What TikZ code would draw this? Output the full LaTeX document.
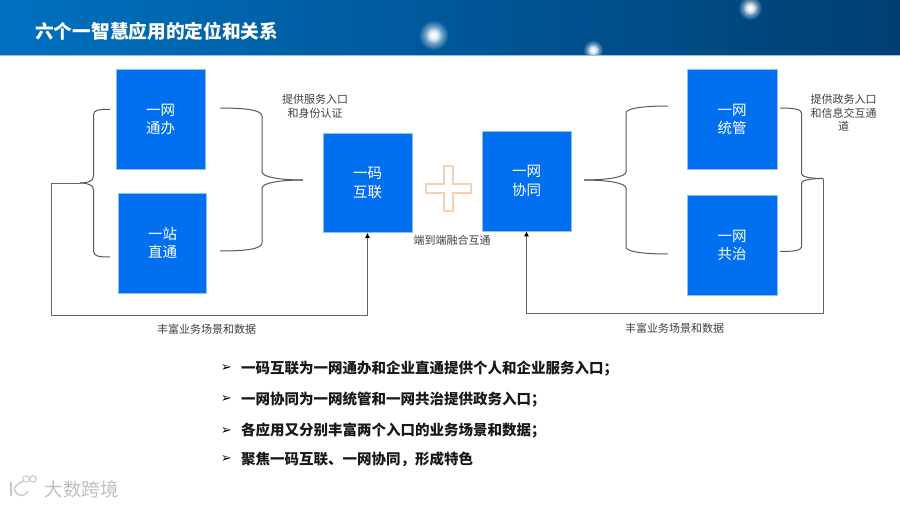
\documentclass[tikz,border=0pt]{standalone}
\usepackage{fontspec}
\setmainfont{Noto Sans CJK SC}
\newfontfamily\symfont{DejaVu Sans}
\usepackage{xcolor}
\usetikzlibrary{arrows.meta, positioning, calc, fadings}
\definecolor{appblue}{HTML}{0070F0}
\definecolor{appedge}{HTML}{8FC0F5}
\definecolor{headleft}{HTML}{0070C0}
\definecolor{headright}{HTML}{003F72}
\definecolor{plusedge}{HTML}{F6CFB4}
\tikzfading[name=glowfade, inner color=transparent!0, outer color=transparent!100]
\tikzset{
  appbox/.style={
    draw=appedge, line width=0.6pt, fill=appblue, align=center, text=white,
    inner sep=0pt, font=\fontsize{14.5}{18.5}\selectfont
  },
  bracecurve/.style={draw=black!65, line width=1pt},
  backarrow/.style={draw=black!60, line width=1pt, -{Latex[length=5pt,width=5pt,color=black]}},
  notelabel/.style={
    font=\fontsize{11}{13.7}\selectfont, text=black!75, align=center, inner sep=0pt
  },
  pointlabel/.style={
    font=\fontsize{14.5}{18}\selectfont\bfseries, text=black!90, anchor=west, inner sep=0pt
  },
  pointmark/.style={
    font=\symfont\fontsize{13}{15}\selectfont, text=black, inner sep=0pt
  },
  starglow/.style={fill=white, path fading=glowfade},
  markline/.style={draw=black!22, line width=1.3pt},
}
\begin{document}
\begin{tikzpicture}[x=1pt, y=-1pt]
  \useasboundingbox (0,0) rectangle (900,506);
  \fill[white] (0,0) rectangle (900,506);

  % Header
  \fill[left color=headleft, right color=headright] (0,0) rectangle (900,55.5);
  \fill[starglow] (433.5,35) circle (15);
  \fill[starglow] (433.5,35) circle (8);
  \fill[starglow] (750,8) circle (12);
  \fill[starglow] (750,8) circle (7);
  \fill[starglow] (593,50) circle (10);
  \fill[starglow] (593,50) circle (6);
  \fill[white] (0,56) rectangle (900,70);
  \draw[appedge, line width=0.8pt] (0,55.8) -- (900,55.8);
  \node[font=\fontsize{18.7}{22}\selectfont\bfseries, text=white, anchor=west, inner sep=0pt]
    (title) at (35,31.5) {六个一智慧应用的定位和关系};

  % Boxes
  \node[appbox, minimum width=89pt, minimum height=99.5pt] (wtb) at (160.5,119.5) {一网\\通办};
  \node[appbox, minimum width=88.5pt, minimum height=100pt] (yzzt) at (162.5,243) {一站\\直通};
  \node[appbox, minimum width=89pt, minimum height=99.5pt] (ymhl) at (367.5,182.7) {一码\\互联};
  \node[appbox, minimum width=89pt, minimum height=100pt] (ywxt) at (526.5,181) {一网\\协同};
  \node[appbox, minimum width=90pt, minimum height=99.5pt] (ywtg) at (732,119.5) {一网\\统管};
  \node[appbox, minimum width=90pt, minimum height=99.5pt] (ywgz) at (732,245.5) {一网\\共治};

  % Plus
  \coordinate (plus) at (448.2,188.5);
  \draw[plusedge, line width=2.4pt, fill=white]
    ($(plus)+(-4.5,-22.5)$) -- ++(9,0) -- ++(0,18) -- ++(18,0) -- ++(0,9)
    -- ++(-18,0) -- ++(0,18) -- ++(-9,0) -- ++(0,-18) -- ++(-18,0)
    -- ++(0,-9) -- ++(18,0) -- cycle;

  % Braces
  \coordinate (b1top) at (110,109.3);
  \coordinate (b1tip) at (80,183);
  \coordinate (b1bot) at (110,257);
  \draw[bracecurve] (b1top) .. controls (98,109.3) and (93.5,110) .. (93.5,115) -- (93.5,176)
    .. controls (93.5,181) and (88,183) .. (b1tip);
  \draw[bracecurve] (b1bot) .. controls (98,257) and (93.5,256) .. (93.5,251) -- (93.5,190)
    .. controls (93.5,185) and (88,183) .. (b1tip);

  \coordinate (b2top) at (220,108);
  \coordinate (b2tip) at (303,180);
  \coordinate (b2bot) at (220,251);
  \draw[bracecurve] (b2top) .. controls (245,108) and (262,110) .. (262,116) -- (262,172)
    .. controls (262,177) and (280,180) .. (b2tip);
  \draw[bracecurve] (b2bot) .. controls (245,251) and (262,249) .. (262,243) -- (262,188)
    .. controls (262,183) and (280,180) .. (b2tip);

  \coordinate (b3top) at (668,106);
  \coordinate (b3tip) at (584,180);
  \coordinate (b3bot) at (668,254);
  \draw[bracecurve] (b3top) .. controls (645,106) and (626,108) .. (626,113) -- (626,172)
    .. controls (626,177) and (607,180) .. (b3tip);
  \draw[bracecurve] (b3bot) .. controls (645,254) and (626,252) .. (626,247) -- (626,188)
    .. controls (626,183) and (607,180) .. (b3tip);

  \coordinate (b4top) at (780,108);
  \coordinate (b4tip) at (823,178.5);
  \coordinate (b4bot) at (780,251.5);
  \draw[bracecurve] (b4top) .. controls (793,108) and (801.5,109) .. (801.5,113) -- (801.5,174)
    .. controls (801.5,177) and (812,178.5) .. (b4tip);
  \draw[bracecurve] (b4bot) .. controls (793,251.5) and (801.5,250.5) .. (801.5,247) -- (801.5,183)
    .. controls (801.5,180) and (812,178.5) .. (b4tip);

  % Feedback lines
  \coordinate (leftturn) at (51.5,183);
  \coordinate (leftbase) at (51.5,315.5);
  \coordinate (rightbase) at (823,313);
  \draw[backarrow] (b1tip) -- (leftturn) -- (leftbase) -| (ymhl.south);
  \draw[backarrow] (b4tip) -- (rightbase) -| (ywxt.south);

  % Labels
  \node[notelabel] (servnote) at (315,106.5) {提供服务入口\\和身份认证};
  \node[notelabel] (govnote) at (843.5,113) {提供政务入口\\和信息交互通\\道};
  \node[notelabel] (e2enote) at (452,240) {端到端融合互通};
  \node[notelabel] (leftdata) at (206.5,329.5) {丰富业务场景和数据};
  \node[notelabel] (rightdata) at (674.5,328) {丰富业务场景和数据};

  % Key points
  \node[pointlabel] (pa) at (241,368.5) {一码互联为一网通办和企业直通提供个人和企业服务入口；};
  \node[pointlabel] (pb) at (241,399.5) {一网协同为一网统管和一网共治提供政务入口；};
  \node[pointlabel] (pc) at (241,431) {各应用又分别丰富两个入口的业务场景和数据；};
  \node[pointlabel] (pd) at (241,459) {聚焦一码互联、一网协同，形成特色};
  \foreach \p in {pa,pb,pc,pd}
    \node[pointmark, left=9pt of \p.west] (mark\p) {➢};

  % Watermark
  \draw[markline] (11,482) -- (11,496);
  \draw[markline] (24,481) .. controls (16,484) and (13,488) .. (15,491)
    .. controls (18,497) and (25,497) .. (28,491);
  \draw[markline, line width=1pt] (26,479) circle (3.2) (33,479) circle (3.2);
  \node[font=\fontsize{18.5}{20}\selectfont, text=black!25, anchor=west, inner sep=0pt]
    (markname) at (44.5,489) {大数跨境};
\end{tikzpicture}
\end{document}
